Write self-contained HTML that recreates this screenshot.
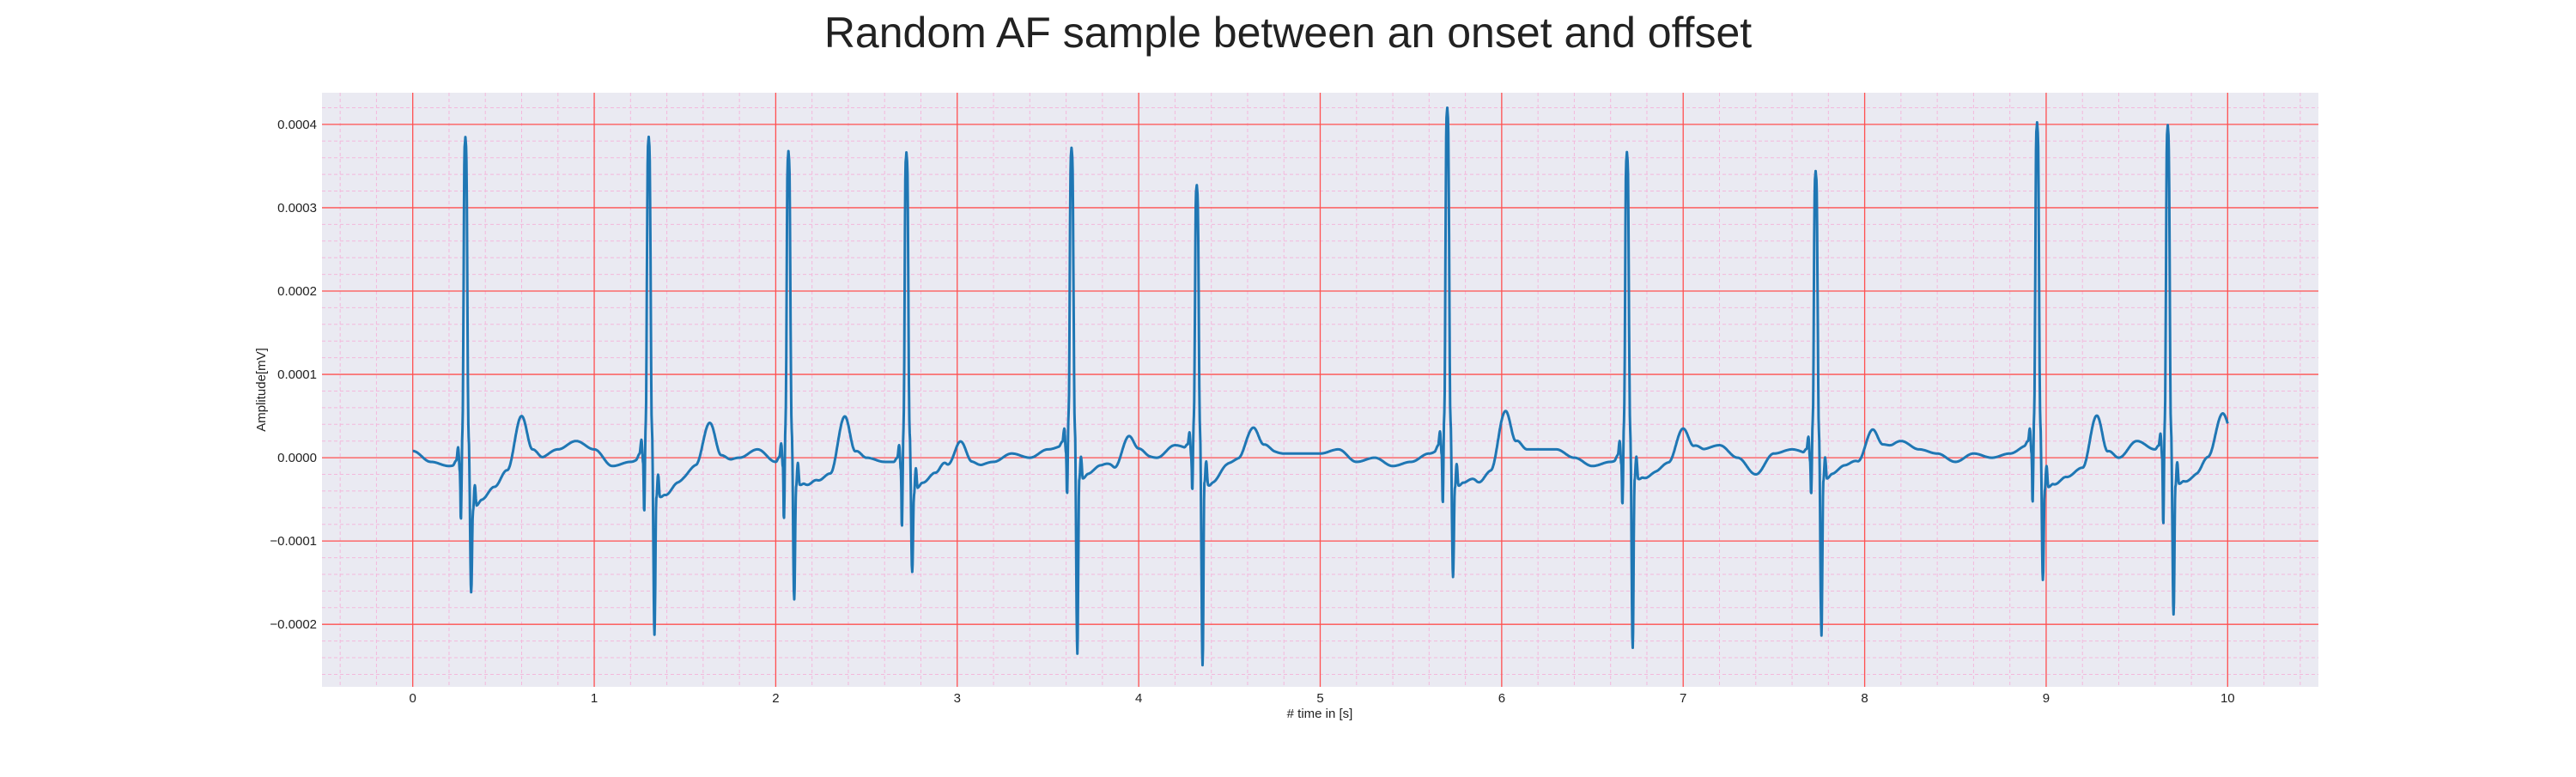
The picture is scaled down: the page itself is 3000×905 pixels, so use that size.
<!DOCTYPE html>
<html><head><meta charset="utf-8"><style>
html,body{margin:0;padding:0;background:#fff;}
body{width:3000px;height:900px;overflow:hidden;font-family:"Liberation Sans",sans-serif;}
</style></head><body>
<svg id="chart" width="3000" height="900" xmlns="http://www.w3.org/2000/svg">
<text x="1500" y="55" font-size="50" text-anchor="middle" fill="#222" font-family="Liberation Sans, sans-serif">Random AF sample between an onset and offset</text>
<rect x="375" y="108" width="2325" height="692" fill="#eaeaf2"/>
<g id="grid"></g>
<g id="ticks"></g>
<path id="sig" fill="none" stroke="#1f77b4" stroke-width="3" stroke-linejoin="round"/>
<text x="1537" y="836" font-size="15" text-anchor="middle" fill="#222"># time in [s]</text>
<text transform="translate(309,454) rotate(-90)" font-size="15" text-anchor="middle" fill="#222">Amplitude[mV]</text>
</svg>
<script>
const xTicks=[0,1,2,3,4,5,6,7,8,9,10];
const yTicks=[-0.0002,-0.0001,0,0.0001,0.0002,0.0003,0.0004];
const yTickLabels=["\u22120.0002","\u22120.0001","0.0000","0.0001","0.0002","0.0003","0.0004"];
const rTime=[0.29,1.30,2.07,2.72,3.63,4.32,5.70,6.69,7.73,8.95,9.67];
const rAmp=[0.00039,0.00038,0.000365,0.00037,0.00036,0.00032,0.000405,0.000362,0.00034,0.00039,0.000393];
const sAmp=[-0.000157,-0.000215,-0.000175,-0.00014,-0.00024,-0.000243,-0.000157,-0.000232,-0.000215,-0.000157,-0.000193];
const qAmp=[-0.00007,-0.00007,-0.000075,-0.00008,-0.00006,-0.00005,-0.00007,-0.00006,-0.00005,-0.00007,-0.00009];
const postLevel=[-0.00005,-0.00004,-0.00003,-0.00004,-0.00002,-0.00001,-0.00004,-0.00002,-0.00002,-0.00004,-0.00003];
const tOffset=[0.31,0.34,0.31,0.30,0.31,0.31,0.32,0.31,0.31,0.33,0.30];
const tAmp=[0.00005,0.00004,0.000055,0.000025,0.00003,0.00003,0.000055,0.00003,0.00003,0.000055,0.000035];
const baseline=[0.000008,-0.000005,-0.00001,-0.000005,0,0,0,0,0.00001,0.00002,0.00001,
-0.00001,-0.000005,0.000005,-0.000005,0,0.000005,-0.000005,0,0.00001,-0.000005,
0.000005,-0.000005,-0.00001,-0.000005,0,-0.000005,-0.000005,0.00001,0.00001,-0.000005,
-0.00001,-0.000005,0.000005,0,0.00001,0.000015,0,0.000005,-0.00001,0.000005,
0,0.000015,0.00001,-0.00002,0,0.000005,0.00001,0.000005,0.000005,0.000005,
0.00001,-0.000005,0,-0.00001,-0.000005,0.000005,0.000015,0.00001,-0.000005,0,
0.00001,0.00001,0.00001,0,-0.00001,-0.000005,0.000005,-0.000005,0,0.000005,
0.00001,0.000015,0,-0.00002,0.000005,0.00001,0.000005,0,0.000005,0,
0.00001,0.00002,0.00001,0.000005,-0.000005,0.000005,0,0.000005,0.000015,0.00001,
0.000005,0,-0.000005,0,0.00002,0.00001,0.000005,0,0.00001,0.00002,0.00001];
const X0=375,X1=2700,XMIN=-0.5,XMAX=10.5,Y0=108,Y1=800,YMIN=-0.000275,YMAX=0.000438;
function sx(v){return X0+(v-XMIN)/(XMAX-XMIN)*(X1-X0);}
function sy(v){return Y1-(v-YMIN)/(YMAX-YMIN)*(Y1-Y0);}
const NS="http://www.w3.org/2000/svg";
const grid=document.getElementById('grid'),ticks=document.getElementById('ticks');
function line(p,x1,y1,x2,y2,c,w,d){const l=document.createElementNS(NS,'line');l.setAttribute('x1',x1);l.setAttribute('y1',y1);l.setAttribute('x2',x2);l.setAttribute('y2',y2);l.setAttribute('stroke',c);l.setAttribute('stroke-width',w);if(d)l.setAttribute('stroke-dasharray',d);p.appendChild(l);return l;}
for(let i=-2;i<=52;i++){const v=i*0.2;if(v<=XMIN||v>=XMAX||i%5===0)continue;
const l=line(grid,sx(v),Y0,sx(v),Y1,'#f4b8dc',1,'4,3');

}
for(let i=-14;i<=22;i++){const v=i*0.00002;if(v<=YMIN||v>=YMAX||i%5===0)continue;
const l=line(grid,X0,sy(v),X1,sy(v),'#f4b8dc',1,'4,3');

}
xTicks.forEach(v=>{const l=line(grid,sx(v),Y0,sx(v),Y1,'#ff5050',1.3);


const t=document.createElementNS(NS,'text');t.setAttribute('x',sx(v));t.setAttribute('y',818);t.setAttribute('font-size','15');t.setAttribute('text-anchor','middle');t.setAttribute('fill','#222');t.textContent=v;


ticks.appendChild(t);});
yTicks.forEach((v,i)=>{const l=line(grid,X0,sy(v),X1,sy(v),'#ff5050',1.3);


const t=document.createElementNS(NS,'text');t.setAttribute('x',369);t.setAttribute('y',sy(v)+5);t.setAttribute('font-size','15');t.setAttribute('text-anchor','end');t.setAttribute('fill','#222');t.textContent=yTickLabels[i];


ticks.appendChild(t);});
function beatKeys(i){const p=postLevel[i],to=tOffset[i];
return [[-0.07,0],[-0.05,0.000005],[-0.04,0.00002],[-0.03,-0.00001],[-0.025,qAmp[i]],[-0.016,0.00004],[-0.004,rAmp[i]*0.97],[0,rAmp[i]],[0.004,rAmp[i]*0.97],[0.018,0.00003],[0.032,sAmp[i]],[0.042,p-0.00001],[0.052,p+0.00002],[0.062,p-0.000005],[0.09,p],[0.16,p*0.7],[to-0.08,p*0.3],[to,tAmp[i]],[to+0.06,tAmp[i]*0.2],[to+0.12,0]];}
function interp(keys,dt){if(dt<=keys[0][0]||dt>=keys[keys.length-1][0])return 0;
for(let k=1;k<keys.length;k++){if(dt<=keys[k][0]){const a=keys[k-1],b=keys[k];const f=(dt-a[0])/(b[0]-a[0]);return a[1]+(b[1]-a[1])*(0.5-0.5*Math.cos(Math.PI*f));}}return 0;}
function value(t){let fi=t*10,i0=Math.floor(fi),f=fi-i0;const b0=baseline[Math.min(i0,baseline.length-1)],b1=baseline[Math.min(i0+1,baseline.length-1)];
let v=b0+(b1-b0)*(0.5-0.5*Math.cos(Math.PI*f));
for(let i=0;i<rTime.length;i++){const dt=t-rTime[i];if(dt>-0.08&&dt<0.6){v+=interp(beatKeys(i),dt);}}return v;}
let d='';for(let t=0;t<=10.0001;t+=0.002){d+=(d?'L':'M')+sx(t).toFixed(1)+','+sy(value(t)).toFixed(1);}
document.getElementById('sig').setAttribute('d',d);
</script>
</body></html>
